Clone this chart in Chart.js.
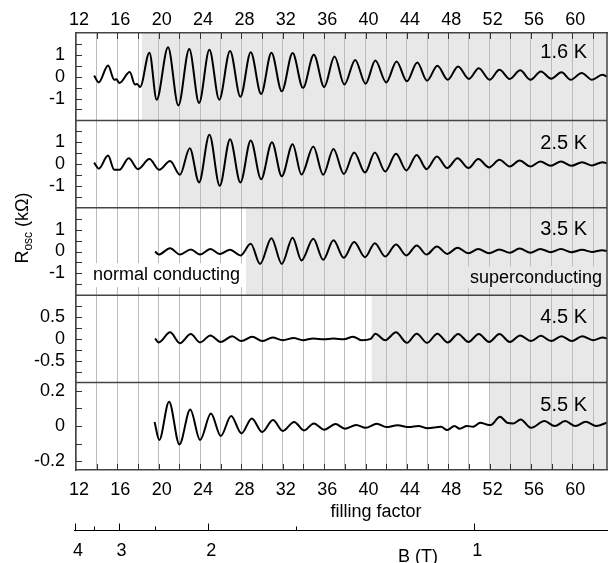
<!DOCTYPE html>
<html lang="en">
<head>
<meta charset="UTF-8" />
<title>R_osc vs filling factor</title>
<script src="https://cdn.jsdelivr.net/npm/chart.js@4.4.1/dist/chart.umd.min.js"></script>
<style>
  html, body { margin: 0; padding: 0; background: #fff; }
  #wrap { position: relative; width: 610px; height: 563px; }
</style>
</head>
<body>
<div id="wrap"><canvas id="chart"></canvas></div>
<script>
// ---- data (filling factor on x, R_osc in kOhm on y) ----
const panelTemps = ["1.6 K", "2.5 K", "3.5 K", "4.5 K", "5.5 K"];
// superconducting (shaded) region starts at this filling factor, per panel
const shadeFrom = [18.38, 22.06, 28.44, 40.6, 52.04];

const yMin = [-2, -2, -2, -1, -0.249];
const yMax = [2, 2, 2, 1, 0.246];
const yStep = [0.5, 0.5, 0.5, 0.25, 0.1];
const yLabels = [[-1, 0, 1], [-1, 0, 1], [-1, 0, 1], [-0.5, 0, 0.5], [-0.2, 0, 0.2]];

const fillingLabels = [12, 16, 20, 24, 28, 32, 36, 40, 44, 48, 52, 56, 60];

// magnetic field axis: B values and the filling factor they sit at
const bValues = [4, 3.5, 3, 2.5, 2, 1.5, 1];
const bAtFilling = [11.9, 13.76, 16.12, 19.61, 24.78, 33.25, 50.52];
const bLabelled = [4, 3, 2, 1];

// 1.6 K
const nu1 = [13.75,14.2,15.1,15.7,15.9,16.2,17.2,17.7,17.9,18.2,19.1,19.8,20.9,21.9,22.95,23.9,24.9,25.85,26.9,27.9,
             28.9,29.9,30.9,31.9,32.95,33.95,35.0,36.0,37.0,37.95,39.0,40.0,40.95,42.0,43.0,44.0,45.0,45.95,46.95,47.95,
             48.95,50.0,50.95,52.0,52.95,53.95,54.95,55.95,56.95,57.95,58.95,59.85,60.9,61.9,62.9,63.35];
const r1  = [0.05,-0.26,0.51,-0.14,-0.12,-0.29,0.21,-0.36,-0.33,-0.47,1.1,-1.05,1.35,-1.32,1.27,-1.2,1.23,-1.05,1.18,-0.92,
             1.12,-0.79,1.1,-0.67,1.08,-0.51,1.0,-0.47,0.92,-0.36,0.77,-0.32,0.74,-0.26,0.70,-0.21,0.65,-0.18,0.5,-0.14,
             0.47,-0.1,0.39,-0.14,0.32,-0.1,0.29,-0.14,0.24,-0.09,0.2,-0.14,0.17,-0.14,0.09,0.0];
// 2.5 K
const nu2 = [13.75,14.2,15.1,15.7,16.2,17.1,18.0,19.1,20.05,21.1,22.05,23.0,23.9,24.9,25.9,26.9,27.9,28.9,29.9,30.95,
             31.9,32.95,33.8,34.95,35.9,36.9,37.9,38.9,39.95,40.9,41.9,42.95,43.95,44.95,45.9,46.9,47.9,48.9,49.95,50.9,
             51.95,52.95,53.95,54.9,55.95,56.9,57.9,58.9,59.9,60.95,61.9,62.9,63.35];
const r2  = [0.07,-0.21,0.39,-0.26,-0.26,0.27,-0.23,0.23,-0.26,0.14,-0.49,0.73,-0.84,1.34,-0.99,1.14,-0.84,1.08,-0.69,1.0,
             -0.56,0.91,-0.48,0.8,-0.49,0.69,-0.45,0.53,-0.39,0.53,-0.34,0.47,-0.29,0.42,-0.23,0.35,-0.18,0.27,-0.18,0.23,
             -0.15,0.2,-0.11,0.16,-0.11,0.12,-0.08,0.12,-0.08,0.09,-0.06,0.09,0.03];
// 3.5 K
const nu3 = [19.65,20.0,21.1,22.05,23.1,24.0,25.0,25.9,26.9,27.9,28.9,29.8,30.9,31.9,32.95,33.8,34.95,35.9,36.9,37.9,
             38.9,39.95,40.9,41.9,42.95,43.95,44.95,45.9,46.9,47.9,48.9,49.95,50.9,51.95,52.95,53.95,54.9,55.95,56.9,57.9,
             58.9,59.9,60.95,61.9,62.9,63.35];
const r3  = [0.0,-0.14,0.15,-0.14,0.09,-0.14,0.11,-0.11,0.08,-0.18,0.35,-0.57,0.61,-0.57,0.63,-0.41,0.58,-0.38,0.51,-0.29,
             0.43,-0.26,0.38,-0.23,0.32,-0.18,0.28,-0.14,0.23,-0.11,0.17,-0.08,0.12,-0.08,0.09,-0.06,0.14,-0.06,0.12,-0.03,
             0.11,-0.03,0.08,-0.02,0.06,0.02];
// 4.5 K
const nu4 = [19.65,20.0,21.1,22.05,23.1,24.0,25.0,26.0,27.1,28.0,29.05,30.0,31.0,32.0,33.05,33.95,34.95,35.95,36.9,37.9,
             38.8,39.6,40.5,40.95,41.9,42.95,44.0,44.95,45.95,46.95,47.95,48.95,49.95,50.95,51.95,52.95,53.95,54.95,56.0,56.95,
             57.95,58.95,59.95,60.95,62.0,62.95,63.35];
const r4  = [0.01,-0.08,0.15,-0.1,0.11,-0.08,0.08,-0.07,0.06,-0.05,0.05,-0.05,0.03,-0.03,0.02,-0.03,0.01,-0.01,0.01,-0.01,
             0.05,-0.03,0.0,0.12,-0.03,0.15,-0.09,0.12,-0.09,0.12,-0.08,0.11,-0.07,0.11,-0.07,0.11,-0.07,0.08,-0.05,0.07,
             -0.05,0.06,-0.05,0.06,-0.03,0.03,0.01];
// 5.5 K
const nu5 = [19.6,20.05,21.0,22.0,23.05,24.0,25.05,26.0,27.0,28.0,29.0,30.0,31.05,32.0,33.1,34.05,35.0,36.0,37.1,38.0,
             39.1,40.0,41.1,42.0,43.1,44.2,45.1,46.0,47.3,47.9,48.6,49.1,49.8,50.4,51.1,51.7,52.1,53.0,53.7,54.3,
             55.0,56.0,57.3,58.3,59.3,60.3,61.3,62.3,63.35];
const r5  = [0.023,-0.079,0.138,-0.104,0.094,-0.079,0.071,-0.057,0.057,-0.042,0.043,-0.034,0.034,-0.028,0.023,-0.025,0.015,-0.021,0.011,-0.015,
             0.006,-0.01,0.013,-0.006,0.004,-0.006,0.0,-0.013,-0.004,-0.023,0.0,-0.015,0.0,-0.004,0.019,0.009,0.006,0.053,0.019,0.015,
             0.037,-0.01,0.028,0.0,0.028,0.0,0.024,0.0,0.019];

const series = [[nu1, r1], [nu2, r2], [nu3, r3], [nu4, r4], [nu5, r5]];

// ---- styling ----
const FONT = '"Liberation Sans", Arial, Helvetica, sans-serif';
const SHADE = "#e8e8e8";
const FRAME = "#444";
const panelIds = ["y1", "y2", "y3", "y4", "y5"];
const labelDy = [19.5, 23.3, 22, 22.5, 23.3];   // temperature label offset below panel top

Chart.defaults.font.family = FONT;
Chart.defaults.font.size = 18;
Chart.defaults.color = "#000";

const xLabel = v => fillingLabels.includes(v) ? String(v) : "";

function yAxis(i) {
  return {
    type: "linear", position: "left", stack: "panels", stackWeight: 1,
    min: yMin[i], max: yMax[i],
    afterFit: s => { s.width = 76; },
    ticks: {
      stepSize: yStep[i], includeBounds: false, autoSkip: false, padding: 11,
      callback: v => {
        const hit = yLabels[i].find(t => Math.abs(t - v) < 1e-6);
        return hit === undefined ? "" : String(hit);
      }
    },
    grid: { display: false, drawTicks: false },
    border: { color: FRAME, width: 1.5 }
  };
}

// panel shading, separators, inward ticks and extra texts
const panelDecor = {
  id: "panelDecor",
  beforeDraw(chart) {
    const { ctx, chartArea: a, scales: s } = chart;
    ctx.save();
    ctx.fillStyle = SHADE;
    panelIds.forEach((id, i) => {
      const y = s[id];
      const x0 = s.x.getPixelForValue(shadeFrom[i]);
      ctx.fillRect(x0, y.top, a.right - x0, y.bottom - y.top);
    });
    ctx.restore();
  },
  beforeDatasetsDraw(chart) {
    const { ctx, chartArea: a, scales: s } = chart;
    const p = s.y3;
    ctx.save();
    ctx.font = "18px " + FONT;
    ctx.textBaseline = "middle";

    const t1 = "normal conducting";
    const w1 = ctx.measureText(t1).width;
    ctx.fillStyle = "#fff";
    ctx.fillRect(a.left + 15, p.bottom - 32, w1 + 4, 24);
    ctx.fillStyle = "#000";
    ctx.textAlign = "left";
    ctx.fillText(t1, a.left + 17, p.bottom - 20.5);

    const t2 = "superconducting";
    const w2 = ctx.measureText(t2).width;
    ctx.fillStyle = SHADE;
    ctx.fillRect(a.right - 7 - w2, p.bottom - 29, w2 + 5, 22);
    ctx.fillStyle = "#000";
    ctx.textAlign = "right";
    ctx.fillText(t2, a.right - 5, p.bottom - 17.3);
    ctx.restore();
  },
  afterDraw(chart) {
    const { ctx, chartArea: a, scales: s } = chart;
    ctx.save();

    // separators between panels and the right frame
    ctx.strokeStyle = FRAME;
    ctx.lineWidth = 1.5;
    ctx.beginPath();
    panelIds.slice(0, 4).forEach(id => {
      const yb = s[id].bottom;
      ctx.moveTo(a.left, yb);
      ctx.lineTo(a.right, yb);
    });
    ctx.moveTo(a.right, a.top);
    ctx.lineTo(a.right, a.bottom);
    ctx.stroke();

    // inward tick marks
    ctx.strokeStyle = "#333";
    ctx.lineWidth = 1;
    ctx.beginPath();
    s.x.ticks.forEach(t => {
      if (t.value <= s.x.min) return;
      const px = Math.round(s.x.getPixelForValue(t.value)) + 0.5;
      ctx.moveTo(px, a.top);
      ctx.lineTo(px, a.top + 6);
      ctx.moveTo(px, a.bottom);
      ctx.lineTo(px, a.bottom - 6);
    });
    panelIds.forEach(id => {
      const y = s[id];
      y.ticks.forEach(t => {
        if (t.value <= y.min || t.value >= y.max) return;
        const py = Math.round(y.getPixelForValue(t.value)) + 0.5;
        ctx.moveTo(a.left, py);
        ctx.lineTo(a.left + 6, py);
      });
    });
    ctx.stroke();

    // temperature labels
    ctx.fillStyle = "#000";
    ctx.font = "20px " + FONT;
    ctx.textAlign = "right";
    ctx.textBaseline = "middle";
    panelIds.forEach((id, i) => {
      ctx.fillText(panelTemps[i], a.right - 20, s[id].top + labelDy[i]);
    });

    // y title: R_osc (kOhm), rotated
    ctx.save();
    ctx.translate(28, 228);
    ctx.rotate(-Math.PI / 2);
    ctx.textAlign = "left";
    ctx.textBaseline = "alphabetic";
    const big = "18px " + FONT, small = "12px " + FONT;
    ctx.font = big;
    const wR = ctx.measureText("R").width;
    const wT = ctx.measureText(" (k\u03A9)").width;
    ctx.font = small;
    const wS = ctx.measureText("osc").width;
    let x0 = -(wR + wS + wT) / 2;
    ctx.font = big;
    ctx.fillText("R", x0, 0);
    ctx.font = small;
    ctx.fillText("osc", x0 + wR, 4);
    ctx.font = big;
    ctx.fillText(" (k\u03A9)", x0 + wR + wS, 0);
    ctx.restore();

    // x title
    ctx.font = "18px " + FONT;
    ctx.textAlign = "center";
    ctx.textBaseline = "alphabetic";
    ctx.fillText("filling factor", 376, a.bottom + 47);

    // magnetic field axis below
    const yB = a.bottom + 60.5;
    ctx.strokeStyle = "#000";
    ctx.lineWidth = 1;
    ctx.beginPath();
    ctx.moveTo(a.left - 2, yB);
    ctx.lineTo(a.right + 1, yB);
    bValues.forEach((b, k) => {
      const px = Math.round(s.x.getPixelForValue(bAtFilling[k])) + 0.5;
      const major = bLabelled.includes(b);
      ctx.moveTo(px, yB);
      ctx.lineTo(px, yB - (major ? 7 : 4));
    });
    ctx.stroke();
    ctx.textBaseline = "middle";
    bValues.forEach((b, k) => {
      if (!bLabelled.includes(b)) return;
      ctx.fillText(String(b), s.x.getPixelForValue(bAtFilling[k]) + 3, yB + 21);
    });
    ctx.textBaseline = "alphabetic";
    ctx.fillText("B (T)", 418, yB + 31);
    ctx.restore();
  }
};

const chart = new Chart(document.getElementById("chart"), {
  type: "line",
  data: {
    datasets: series.map(([nu, r], i) => ({
      label: panelTemps[i],
      data: nu.map((v, k) => ({ x: v, y: r[k] })),
      xAxisID: "x",
      yAxisID: panelIds[i],
      borderColor: "#000",
      borderWidth: 2,
      pointRadius: 0,
      cubicInterpolationMode: "monotone",
      fill: false
    }))
  },
  options: {
    responsive: true,
    maintainAspectRatio: false,
    animation: false,
    events: [],
    layout: { padding: { left: 0, right: 3, top: 0, bottom: 0 } },
    plugins: { legend: { display: false }, tooltip: { enabled: false } },
    scales: {
      x: {
        type: "linear", position: "bottom", min: 12, max: 63.35,
        afterFit: s => { s.height = 93; },
        ticks: { stepSize: 2, includeBounds: false, autoSkip: false, maxRotation: 0,
                 padding: 9, labelOffset: 3, callback: xLabel },
        grid: { color: "#bcbcbc", lineWidth: 1, drawTicks: false },
        border: { color: FRAME, width: 1.5 }
      },
      x2: {
        type: "linear", position: "top", min: 12, max: 63.35,
        afterFit: s => { s.height = 33; },
        ticks: { stepSize: 2, includeBounds: false, autoSkip: false, maxRotation: 0,
                 padding: 2, labelOffset: 3, callback: xLabel },
        grid: { display: false, drawTicks: false },
        border: { color: FRAME, width: 1.5 }
      },
      // stacked panels: the last one defined sits on top
      y5: yAxis(4),
      y4: yAxis(3),
      y3: yAxis(2),
      y2: yAxis(1),
      y1: yAxis(0)
    }
  },
  plugins: [panelDecor]
});
</script>
</body>
</html>
